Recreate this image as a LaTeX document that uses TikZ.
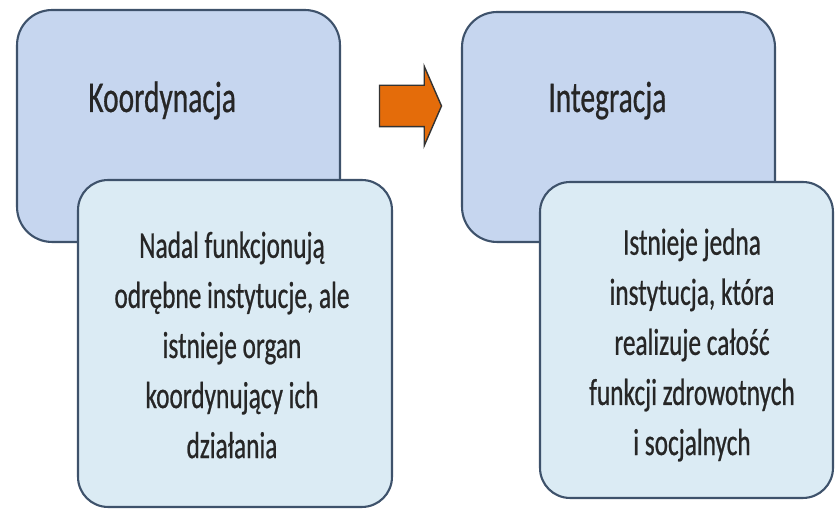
\documentclass[tikz,border=0pt]{standalone}
\usepackage{fontspec}
\setmainfont{Carlito}
\newfontfamily\boxfont{Carlito}[FakeStretch=0.67, FakeBold=0.6]
\usepackage{xcolor}
\usepackage{tikz}
\usetikzlibrary{shapes.arrows,positioning}
\definecolor{outerblue}{HTML}{C6D6EF}
\definecolor{innerblue}{HTML}{DBEBF4}
\definecolor{edgeblue}{HTML}{3E526B}
\definecolor{arroworange}{HTML}{E46C0A}
\definecolor{textgray}{HTML}{262626}

\begin{document}
\begin{tikzpicture}[
    x=0.02cm, y=-0.02cm,
    outerbox/.style={draw=edgeblue, fill=outerblue, line width=1.2pt, rounded corners=0.7cm, inner sep=0pt},
    innerbox/.style={draw=edgeblue, fill=innerblue, line width=1.2pt, rounded corners=0.6cm, inner sep=0pt},
    title/.style={font=\boxfont\fontsize{25}{30}\selectfont, text=textgray, inner sep=0pt},
    body/.style={font=\boxfont\fontsize{21.5}{28.5}\selectfont, text=textgray, align=center, inner sep=0pt},
    blockarrow/.style={single arrow, draw=black!80, fill=arroworange, line width=0.8pt,
      inner xsep=0pt, inner ysep=0.4cm, minimum height=1.24cm,
      single arrow head extend=0.38cm, single arrow tip angle=133}
  ]
    \useasboundingbox (0,0) rectangle (840,509);

    % Coordination
    \node[outerbox, minimum width=6.46cm, minimum height=4.64cm] (koord) at (178.5,126) {};
    \node[title, anchor=base west] (koordtitle) at (88,112) {Koordynacja};
    \node[innerbox, minimum width=6.28cm, minimum height=6.54cm] (koordbox) at (235,343.5) {};
    \node[body] (koordtext) at (232,345) {Nadal funkcjonują\\odrębne instytucje, ale\\istnieje organ\\koordynujący ich\\działania};

    % Integration
    \node[outerbox, minimum width=6.26cm, minimum height=4.6cm] (integ) at (618.5,127) {};
    \node[title, anchor=base west] (integtitle) at (548,112) {Integracja};
    \node[innerbox, minimum width=5.86cm, minimum height=6.32cm] (integbox) at (686.5,340) {};
    \node[body] (integtext) at (692,345) {Istnieje jedna\\instytucja, która\\realizuje całość\\funkcji zdrowotnych\\i socjalnych};

    % Arrow between the two
    \node[blockarrow] (step) at (406,106) {};
  \end{tikzpicture}
\end{document}
